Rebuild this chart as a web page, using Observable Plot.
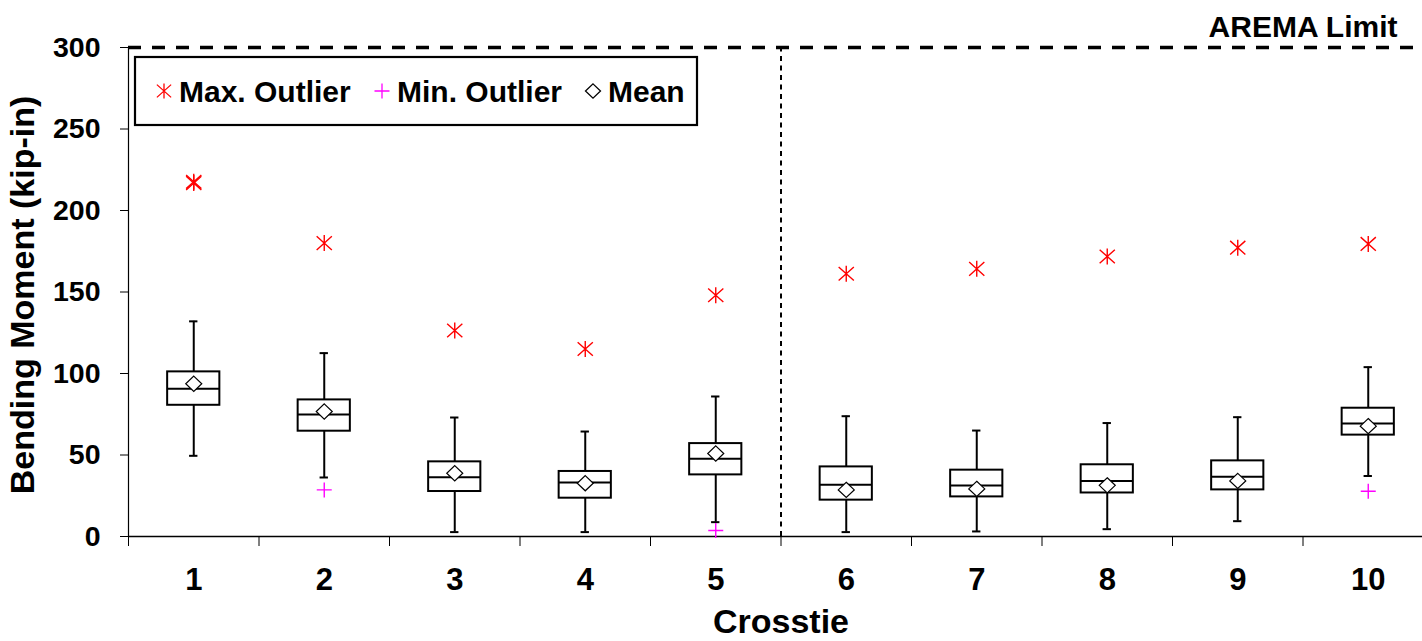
<!DOCTYPE html>
<html>
<head>
<meta charset="utf-8">
<script src="https://cdn.jsdelivr.net/npm/d3@7"></script>
<script src="https://cdn.jsdelivr.net/npm/@observablehq/plot@0.6"></script>
<style>
  html, body { margin: 0; padding: 0; background: white; overflow: hidden; }
  #chart svg { display: block; }
</style>
</head>
<body>
<div id="chart"></div>
<script>
// Bending moment distribution per crosstie (kip-in)
const crossties    = [1, 2, 3, 4, 5, 6, 7, 8, 9, 10];
const whiskerLow   = [49.5, 36.2, 2.7, 2.7, 8.8, 2.7, 3.1, 4.5, 9.4, 37.1];
const quartile1    = [80.5, 64.6, 27.6, 23.5, 37.8, 22.3, 24.3, 26.7, 28.6, 62.2];
const medians      = [90.6, 74.8, 36.4, 33.1, 47.7, 31.7, 31.3, 34.1, 36.7, 69.4];
const quartile3    = [101.0, 83.8, 45.8, 39.9, 57.0, 42.7, 40.7, 44.0, 46.4, 78.7];
const whiskerHigh  = [132.0, 112.5, 73.0, 64.4, 85.9, 73.8, 65.0, 69.6, 73.2, 103.9];
const means        = [93.7, 76.7, 38.8, 32.7, 50.9, 28.6, 29.2, 31.4, 34.1, 67.7];

// Outliers
const maxOutlierTie   = [1, 1, 2, 3, 4, 5, 6, 7, 8, 9, 10];
const maxOutlierValue = [216.8, 217.6, 180.0, 126.4, 115.0, 148.0, 161.2, 164.2, 171.8, 177.2, 179.5];
const minOutlierTie   = [2, 5, 10];
const minOutlierValue = [28.6, 3.7, 27.8];

// Reference values
const aremaLimit = 300;
const groupDivider = 5.5;
const yTicks = [0, 50, 100, 150, 200, 250, 300];

const boxes = crossties.map((tie, i) => ({
  tie, low: whiskerLow[i], q1: quartile1[i], median: medians[i],
  q3: quartile3[i], high: whiskerHigh[i], mean: means[i]
}));
const maxOutliers = maxOutlierTie.map((tie, i) => ({tie, value: maxOutlierValue[i]}));
const minOutliers = minOutlierTie.map((tie, i) => ({tie, value: minOutlierValue[i]}));

// Marker shapes
const starSymbol = {
  draw(ctx, size) {
    const r = Math.sqrt(size / Math.PI);
    ctx.moveTo(0, -r); ctx.lineTo(0, r);
    const a = r * 0.95, b = r * 0.85;
    ctx.moveTo(-a, -b); ctx.lineTo(a, b);
    ctx.moveTo(-a, b); ctx.lineTo(a, -b);
  }
};
const plusSymbol = {
  draw(ctx, size) {
    const r = Math.sqrt(size / Math.PI);
    ctx.moveTo(-r, 0); ctx.lineTo(r, 0);
    ctx.moveTo(0, -r); ctx.lineTo(0, r);
  }
};
const diamondSymbol = {
  draw(ctx, size) {
    const r = Math.sqrt(size / Math.PI);
    ctx.moveTo(0, -r * 0.95); ctx.lineTo(r, 0); ctx.lineTo(0, r * 0.95); ctx.lineTo(-r, 0); ctx.closePath();
  }
};

const fontFamily = "'Liberation Sans', Arial, Helvetica, sans-serif";
const boxHalf = 0.2;
const capHalf = 0.032;
const boundaries = d3.range(0.5, 11, 1);

const chart = Plot.plot({
  width: 1422,
  height: 641,
  marginTop: 47,
  marginBottom: 105,
  marginLeft: 128,
  marginRight: -11,
  style: {fontFamily, fontWeight: "bold", color: "black", background: "white"},
  x: {domain: [0.5, 10.5]},
  y: {domain: [0, 300]},
  marks: [
    // axes
    Plot.axisY({ticks: yTicks, tickSize: 8, tickPadding: 20, fontSize: 28.5, label: null, stroke: "black"}),
    Plot.axisX({ticks: boundaries, tickSize: 10, tickFormat: () => "", label: null, stroke: "black"}),
    Plot.axisX({ticks: crossties, tickSize: 0, tickPadding: 31, fontSize: 31, label: null}),
    Plot.ruleX([0.5], {y1: 0, y2: 300, stroke: "black", strokeWidth: 1.2}),
    Plot.ruleY([0], {stroke: "black", strokeWidth: 1.5}),
    // separators
    Plot.ruleX([groupDivider], {y1: 0, y2: aremaLimit, stroke: "black", strokeWidth: 2, strokeDasharray: "5,4.5"}),
    Plot.ruleY([aremaLimit], {stroke: "black", strokeWidth: 3.5, strokeDasharray: "13,11"}),
    // box plots
    Plot.ruleX(boxes, {x: "tie", y1: "low", y2: "high", stroke: "black", strokeWidth: 2}),
    Plot.ruleY(boxes, {y: "low", x1: d => d.tie - capHalf, x2: d => d.tie + capHalf, stroke: "black", strokeWidth: 2}),
    Plot.ruleY(boxes, {y: "high", x1: d => d.tie - capHalf, x2: d => d.tie + capHalf, stroke: "black", strokeWidth: 2}),
    Plot.rect(boxes, {x1: d => d.tie - boxHalf, x2: d => d.tie + boxHalf, y1: "q1", y2: "q3", fill: "white", stroke: "black", strokeWidth: 2}),
    Plot.ruleY(boxes, {y: "median", x1: d => d.tie - boxHalf, x2: d => d.tie + boxHalf, stroke: "black", strokeWidth: 2}),
    Plot.dot(boxes, {x: "tie", y: "mean", symbol: diamondSymbol, r: 8, fill: "white", stroke: "black", strokeWidth: 1.2}),
    // outliers
    Plot.dot(maxOutliers, {x: "tie", y: "value", symbol: starSymbol, r: 8, fill: "none", stroke: "#ff0000", strokeWidth: 1.4}),
    Plot.dot(minOutliers, {x: "tie", y: "value", symbol: plusSymbol, r: 7.5, fill: "none", stroke: "#ff00ff", strokeWidth: 1.4}),
    // titles
    Plot.text(["AREMA Limit"], {frameAnchor: "top-right", textAnchor: "end", lineAnchor: "middle", dx: -36, dy: -20.5, fontSize: 30, fontWeight: "bold", fill: "black"}),
    Plot.text(["Crosstie"], {frameAnchor: "bottom", textAnchor: "middle", lineAnchor: "middle", dy: 86, fontSize: 34, fontWeight: "bold", fill: "black"}),
    Plot.text(["Bending Moment (kip-in)"], {frameAnchor: "left", rotate: -90, textAnchor: "middle", lineAnchor: "middle", dx: -105, dy: 3, fontSize: 34, fontWeight: "bold", fill: "black"})
  ]
});

// Legend box inside the plot area
const legendItems = [
  {label: "Max. Outlier", symbol: starSymbol, fill: "none", stroke: "#ff0000", cx: 164},
  {label: "Min. Outlier", symbol: plusSymbol, fill: "none", stroke: "#ff00ff", cx: 382},
  {label: "Mean", symbol: diamondSymbol, fill: "white", stroke: "black", cx: 593}
];
const legend = d3.select(chart).append("g")
  .attr("font-family", fontFamily)
  .attr("font-weight", "bold")
  .attr("font-size", 30)
  .attr("text-anchor", "start");
legend.append("rect")
  .attr("x", 135).attr("y", 57).attr("width", 562).attr("height", 68)
  .attr("fill", "white").attr("stroke", "black").attr("stroke-width", 2.2);
for (const item of legendItems) {
  legend.append("path")
    .attr("transform", `translate(${item.cx},91)`)
    .attr("d", d3.symbol(item.symbol, Math.PI * 7.5 * 7.5)())
    .attr("fill", item.fill).attr("stroke", item.stroke).attr("stroke-width", 1.3);
  legend.append("text")
    .attr("x", item.cx + 15).attr("y", 101.5)
    .attr("text-anchor", "start")
    .attr("fill", "black")
    .text(item.label);
}

document.getElementById("chart").append(chart);
</script>
</body>
</html>
